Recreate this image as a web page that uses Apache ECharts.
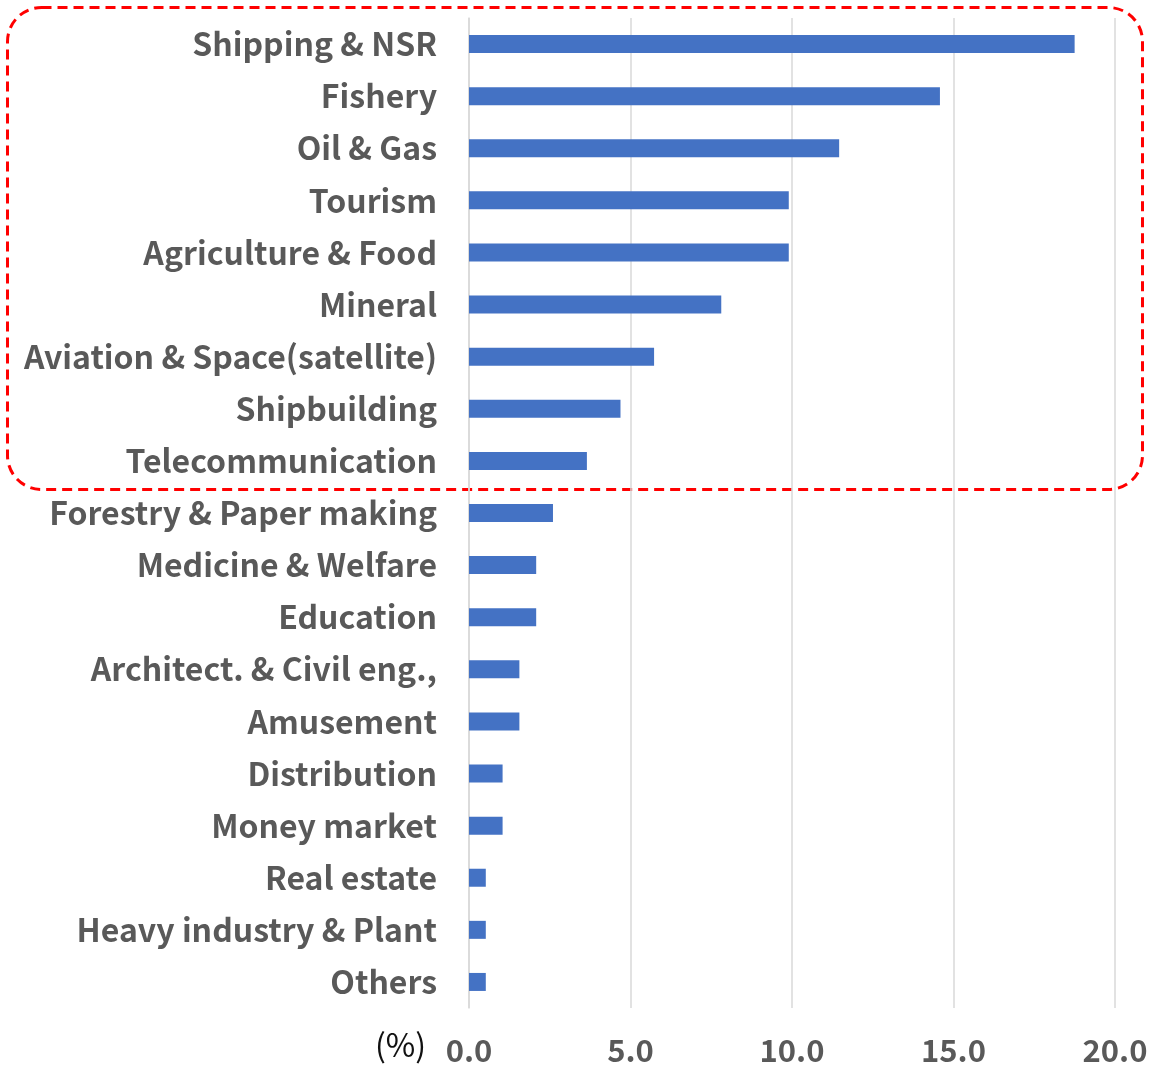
<!DOCTYPE html>
<html>
<head>
<meta charset="utf-8">
<script src="https://cdn.jsdelivr.net/npm/echarts@6/dist/echarts.min.js"></script>
<style>
html,body{margin:0;padding:0;background:#fff;}
#main{width:1153px;height:1067px;}
</style>
</head>
<body>
<div id="main"></div>
<script>
const categories = [
  "Shipping & NSR","Fishery","Oil & Gas","Tourism","Agriculture & Food","Mineral",
  "Aviation & Space(satellite)","Shipbuilding","Telecommunication","Forestry & Paper making",
  "Medicine & Welfare","Education","Architect. & Civil eng.,","Amusement","Distribution",
  "Money market","Real estate","Heavy industry & Plant","Others"
];
const values = [18.75,14.58,11.46,9.90,9.90,7.81,5.73,4.69,3.65,2.60,2.08,2.08,1.56,1.56,1.04,1.04,0.52,0.52,0.52];
const xTicks = { min: 0, max: 20, interval: 5 };
const unitLabel = "(%)";

const chart = echarts.init(document.getElementById('main'), null, {renderer:'canvas'});
const labelColor = '#595959';
chart.setOption({
  animation: false,
  backgroundColor: '#fff',
  grid: { left: 469, right: 38, top: 18, bottom: 59, containLabel: false },
  xAxis: {
    type: 'value', min: xTicks.min, max: xTicks.max, interval: xTicks.interval,
    axisLine: { show: false }, axisTick: { show: false },
    splitLine: { show: true, lineStyle: { color: '#d9d9d9', width: 1.5 } },
    axisLabel: {
      margin: 27, color: labelColor, fontSize: 31, fontWeight: 'bold',
      fontFamily: '"Liberation Sans Narrow", "Noto Sans CJK JP", sans-serif',
      formatter: v => v.toFixed(1)
    }
  },
  yAxis: {
    type: 'category', data: categories, inverse: true,
    axisLine: { show: true, lineStyle: { color: '#d9d9d9', width: 1.5 } },
    axisTick: { show: false },
    axisLabel: {
      margin: 32, color: labelColor, fontSize: 32, fontWeight: 'bold',
      fontFamily: '"Noto Sans CJK JP", "Noto Sans", sans-serif'
    }
  },
  series: [{
    type: 'bar', data: values, barWidth: 18,
    itemStyle: { color: '#4472C4' }
  }],
  graphic: [
    {
      type: 'rect', left: 5, top: 5, silent: true,
      shape: { width: 1135, height: 482, r: 34 },
      style: { fill: 'none', stroke: '#ff0000', lineWidth: 3, lineDash: [10, 6] }
    },
    {
      type: 'text', left: 375, top: 1029,
      style: { text: unitLabel, fill: '#111', fontSize: 32,
        fontFamily: '"Noto Sans CJK JP", sans-serif' }
    }
  ]
});
</script>
</body>
</html>
